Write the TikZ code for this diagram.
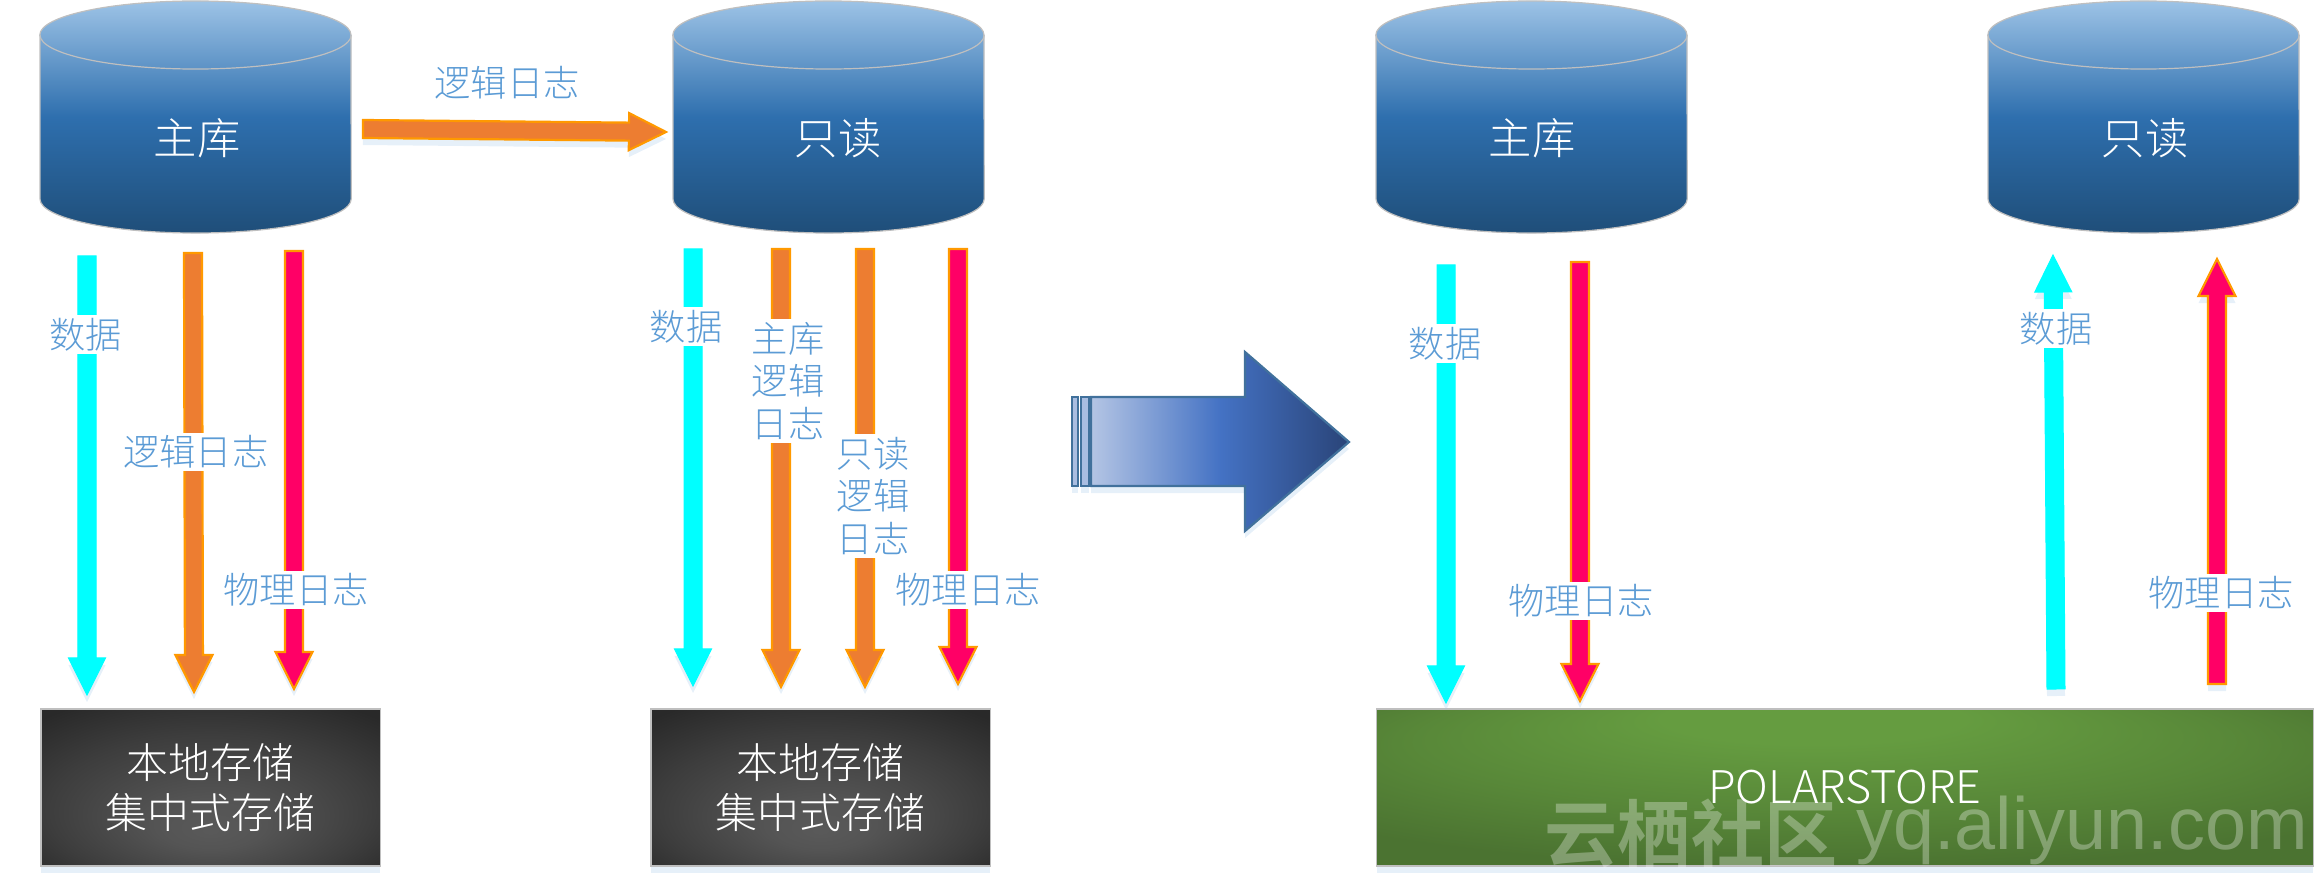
\documentclass[tikz,border=0pt]{standalone}
\usepackage{fontspec}
\usepackage{tikz}
\usetikzlibrary{calc}
\usetikzlibrary{shadows}
\newfontfamily\cjk[UprightFont=* Light,BoldFont=* Bold]{Noto Sans CJK SC}
\newfontfamily\wmlatin{Liberation Sans}
\definecolor{labelblue}{HTML}{5B9BD5}
\definecolor{arroworange}{HTML}{ED7D31}
\definecolor{rimorange}{HTML}{FF9900}
\definecolor{logred}{HTML}{FF0066}
\definecolor{datacyan}{HTML}{00FFFF}
\definecolor{glowblue}{HTML}{9DC3E6}
\definecolor{blue_mid}{HTML}{2E6FAE}
\definecolor{blue_low}{HTML}{1F4E79}
\definecolor{big_rim}{HTML}{41719C}
\definecolor{big_low}{HTML}{B4C5E4}
\definecolor{big_mid}{HTML}{4472C4}
\definecolor{big_end}{HTML}{2A4478}
\definecolor{green_hi}{HTML}{659C40}
\definecolor{green_lo}{HTML}{4B7331}
\pgfdeclareradialshading{dark_shade}{\pgfpoint{0bp}{-14bp}}{color(0bp)=(black!65); color(8bp)=(black!67); color(24bp)=(black!76); color(36bp)=(black!84); color(50bp)=(black!84)}
\pgfdeclareradialshading{green_shade}{\pgfpoint{-2bp}{26bp}}{color(0bp)=(green_hi); color(8bp)=(green_hi); color(22bp)=(green_lo!50!green_hi); color(34bp)=(green_lo); color(50bp)=(green_lo)}
\begin{document}
\begin{tikzpicture}[x=0.01cm, y=-0.01cm,
        soft_shadow/.style={drop shadow={shadow xshift=0cm,shadow yshift=-0.07cm,fill=glowblue,opacity=.25}},
        db_body/.style={draw=black!25,line width=0.012cm,top color=glowblue,bottom color=blue_low,middle color=blue_mid},
        db_rim/.style={draw=black!25,line width=0.012cm},
        db_pic/.pic={
            \draw [db_body] (-155.5,-82) -- (-155.5,82) arc [start angle=180,end angle=360,x radius=1.555cm,y radius=0.34cm] -- (155.5,-82) arc [start angle=0,end angle=180,x radius=1.555cm,y radius=0.34cm] -- cycle;
            \draw [db_rim] (-155.5,-82) arc [start angle=180,end angle=360,x radius=1.555cm,y radius=0.34cm];
        },
        db_text_style/.style={text=white,font=\cjk\fontsize{12.3}{14}\selectfont,inner sep=0pt},
        store_style/.style={rectangle,draw=black!25,line width=0.012cm,minimum width=3.39cm,minimum height=1.57cm,inner sep=0pt,align=center,text=white,font=\cjk\fontsize{11.9}{14.2}\selectfont,soft_shadow,shading=dark_shade},
        label_style/.style={fill=white,text=labelblue,font=\cjk\fontsize{10.3}{12.2}\selectfont,align=center,inner xsep=0pt,inner ysep=0.03cm},
        watermark_style/.style={text=white,text opacity=0.3,inner sep=0pt},
        block_edge/.style={to path={
            ($(\tikztostart)!0.09cm!90:(\tikztotarget)$) --
            ($ ($(\tikztotarget)!0.37cm!(\tikztostart)$) !0.09cm!-90:(\tikztostart)$) --
            ($ ($(\tikztotarget)!0.37cm!(\tikztostart)$) !0.185cm!-90:(\tikztostart)$) --
            (\tikztotarget) --
            ($ ($(\tikztotarget)!0.37cm!(\tikztostart)$) !0.185cm!90:(\tikztostart)$) --
            ($ ($(\tikztotarget)!0.37cm!(\tikztostart)$) !0.09cm!90:(\tikztostart)$) --
            ($(\tikztostart)!0.09cm!-90:(\tikztotarget)$) -- cycle}},
        cyan_edge_style/.style={block_edge,fill=datacyan,draw=datacyan,line width=0.01cm,soft_shadow},
        orange_edge_style/.style={block_edge,fill=arroworange,draw=rimorange,line width=0.022cm,line join=miter,soft_shadow},
        red_edge_style/.style={block_edge,fill=logred,draw=rimorange,line width=0.022cm,line join=miter,soft_shadow},
        big_arrow_style/.style={draw=big_rim,line width=0.022cm,line join=miter}]

        \useasboundingbox (0,0) rectangle (2323,882);

        \pic (db1) at (195.5,117) {db_pic};

        \pic (db2) at (828.5,117) {db_pic};

        \pic (db3) at (1531.5,117) {db_pic};

        \pic (db4) at (2143.5,117) {db_pic};

        \node [db_text_style](t1) at (197,138) {主库};

        \node [db_text_style](t2) at (838,138) {只读};

        \node [db_text_style](t3) at (1532,138) {主库};

        \node [db_text_style](t4) at (2145,138) {只读};

        \node [store_style](s1) at (210.5,787.5) {本地存储\\集中式存储};

        \node [store_style](s2) at (820.5,787.5) {本地存储\\集中式存储};

        \node [store_style,minimum width=9.36cm,shading=green_shade,font=\cjk\fontsize{12.8}{14.2}\selectfont](s3) at (1845,787.5) {POLARSTORE};

        \coordinate (a1) at (363,129);
        \coordinate (b1) at (666,132);

        \coordinate (a2) at (87,256);
        \coordinate (b2) at (87,695);

        \coordinate (a3) at (193,253);
        \coordinate (b3) at (194,692);

        \coordinate (a4) at (294,251);
        \coordinate (b4) at (294,689);

        \coordinate (a5) at (693,249);
        \coordinate (b5) at (693,686);

        \coordinate (a6) at (781,249);
        \coordinate (b6) at (781,687);

        \coordinate (a7) at (865,249);
        \coordinate (b7) at (865,687);

        \coordinate (a8) at (958,249);
        \coordinate (b8) at (958,684);

        \coordinate (a9) at (1446,265);
        \coordinate (b9) at (1446,703);

        \coordinate (a10) at (1580,262);
        \coordinate (b10) at (1580,701);

        \coordinate (a11) at (2056,689);
        \coordinate (b11) at (2053,255);

        \coordinate (a12) at (2217,684);
        \coordinate (b12) at (2217,259);

        \draw [orange_edge_style] (a1) to (b1);

        \draw [cyan_edge_style] (a2) to (b2);

        \draw [orange_edge_style] (a3) to (b3);

        \draw [red_edge_style] (a4) to (b4);

        \draw [cyan_edge_style] (a5) to (b5);

        \draw [orange_edge_style] (a6) to (b6);

        \draw [orange_edge_style] (a7) to (b7);

        \draw [red_edge_style] (a8) to (b8);

        \draw [cyan_edge_style] (a9) to (b9);

        \draw [red_edge_style] (a10) to (b10);

        \draw [cyan_edge_style] (a11) to (b11);

        \draw [red_edge_style] (a12) to (b12);

        \node [label_style](l1) at (507,83) {逻辑日志};

        \node [label_style](l2) at (86,335) {数据};

        \node [label_style](l3) at (196,452) {逻辑日志};

        \node [label_style](l4) at (296,590) {物理日志};

        \node [label_style](l5) at (686,327) {数据};

        \node [label_style](l6) at (788,381) {主库\\逻辑\\日志};

        \node [label_style](l7) at (873,496) {只读\\逻辑\\日志};

        \node [label_style](l8) at (968,590) {物理日志};

        \node [label_style](l9) at (1445,344) {数据};

        \node [label_style](l10) at (1581,601) {物理日志};

        \node [label_style](l11) at (2056,329) {数据};

        \node [label_style](l12) at (2221,593) {物理日志};

        \draw [big_arrow_style,fill=big_low!90!big_mid,soft_shadow] (1072,397) rectangle (1078,486);

        \draw [big_arrow_style,fill=big_low!90!big_mid,soft_shadow] (1081,397) rectangle (1089,486);

        \draw [big_arrow_style,left color=big_low,right color=big_end,middle color=big_mid,soft_shadow] (1091,397) -- (1245,397) -- (1245,352) -- (1349,442) -- (1245,531) -- (1245,486) -- (1091,486) -- cycle;

        \node [watermark_style,font=\cjk\bfseries\fontsize{20.8}{21}\selectfont](w1) at (1691,834) {云栖社区};

        \node [watermark_style,font=\wmlatin\fontsize{21}{22}\selectfont](w2) at (2082,830) {yq.aliyun.com};

        \end{tikzpicture}
\end{document}
